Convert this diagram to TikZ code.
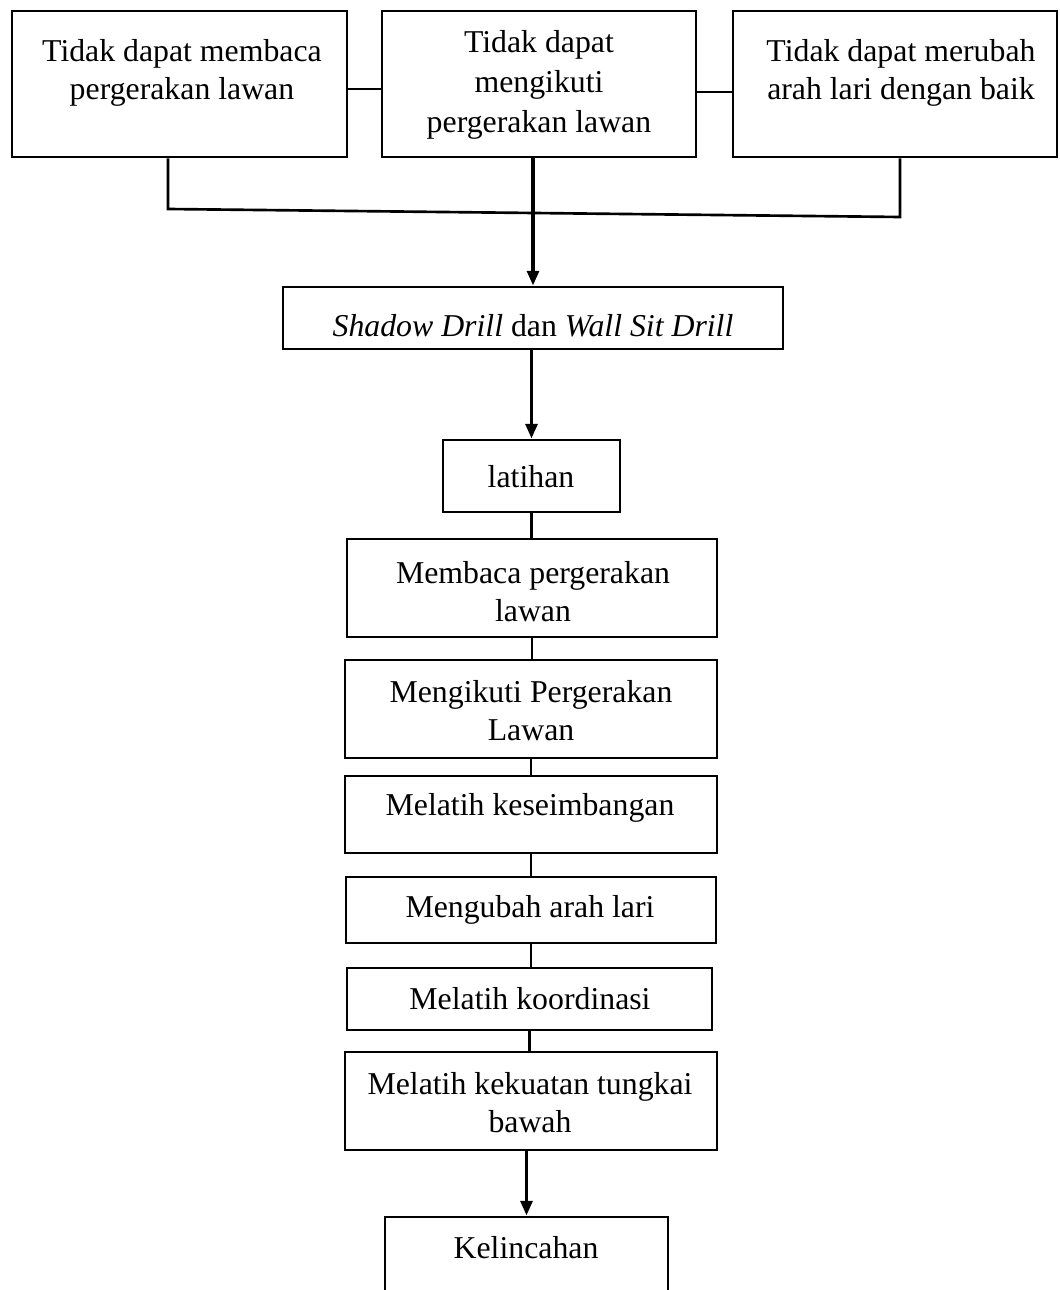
\documentclass[tikz,border=0pt]{standalone}
\usepackage{fontspec}
\setmainfont{Liberation Serif}
\usetikzlibrary{fit,arrows.meta}
\tikzset{
  box/.style={draw, line width=1pt, inner sep=0pt},
  txt/.style={align=center, inner sep=0pt},
  line/.style={line width=1pt},
  arr/.style={line width=1.5pt, -{Triangle[length=5.6pt,width=4.4pt]}},
}
\begin{document}
\begin{tikzpicture}[x=0.3774pt, y=-0.3774pt, font=\fontsize{12}{14.4}\selectfont]
  \clip (0,0) rectangle (1059,1290);
  % top row
  \node[box, fit={(12,11) (347,157)}] (b1) {};
  \node[txt] (t1) at (182,73) {Tidak dapat membaca\\pergerakan lawan};
  \node[box, fit={(382,11) (696,157)}] (b2) {};
  \node[txt, font=\fontsize{12}{15.1}\selectfont] (t2) at (539,85) {Tidak dapat\\mengikuti\\pergerakan lawan};
  \node[box, fit={(733,11) (1057,157)}] (b3) {};
  \node[txt] (t3) at (901,73) {Tidak dapat merubah\\arah lari dengan baik};
  \draw[line] (b1.east |- 0,89) -- (b2.west |- 0,89);
  \draw[line] (b2.east |- 0,92) -- (b3.west |- 0,92);
  \coordinate (j1) at (168,209);
  \coordinate (j3) at (900,217);
  \draw[line] (b1.south -| j1) -- (j1) -- (j3) -- (b3.south -| j3);
  % main column
  \node[box, fit={(283,287) (783,349)}] (drill) {};
  \node[txt] (t4) at (533,326) {\textit{Shadow Drill} dan \textit{Wall Sit Drill}};
  \node[box, fit={(443,440) (620,512)}] (lat) {};
  \node[txt] (t5) at (531,477) {latihan};
  \node[box, fit={(347,539) (717,637)}] (baca) {};
  \node[txt] (t6) at (533,592) {Membaca pergerakan\\lawan};
  \node[box, fit={(345,660) (717,758)}] (ikut) {};
  \node[txt] (t7) at (531,711) {Mengikuti Pergerakan\\Lawan};
  \node[box, fit={(345,776) (717,853)}] (imbang) {};
  \node[txt] (t8) at (530,808) {Melatih keseimbangan};
  \node[box, fit={(346,877) (716,943)}] (ubah) {};
  \node[txt] (t9) at (530,910) {Mengubah arah lari};
  \node[box, fit={(347,968) (712,1030)}] (koord) {};
  \node[txt] (t10) at (530,999) {Melatih koordinasi};
  \node[box, fit={(345,1052) (717,1150)}] (tungkai) {};
  \node[txt] (t11) at (530,1103) {Melatih kekuatan tungkai\\bawah};
  \node[box, fit={(385,1217) (668,1310)}] (kel) {};
  \node[txt] (t12) at (526,1248) {Kelincahan};
  % arrows and links
  \draw[arr] (b2.south -| drill.north) -- (drill.north);
  \draw[arr] (drill.south -| lat.north) -- (lat.north);
  \foreach \a/\b in {lat/baca, baca/ikut, ikut/imbang, imbang/ubah, ubah/koord, koord/tungkai}
    \draw[line] (\a.south) -- (\a.south |- \b.north);
  \draw[arr] (kel.north |- tungkai.south) -- (kel.north);
\end{tikzpicture}
\end{document}
